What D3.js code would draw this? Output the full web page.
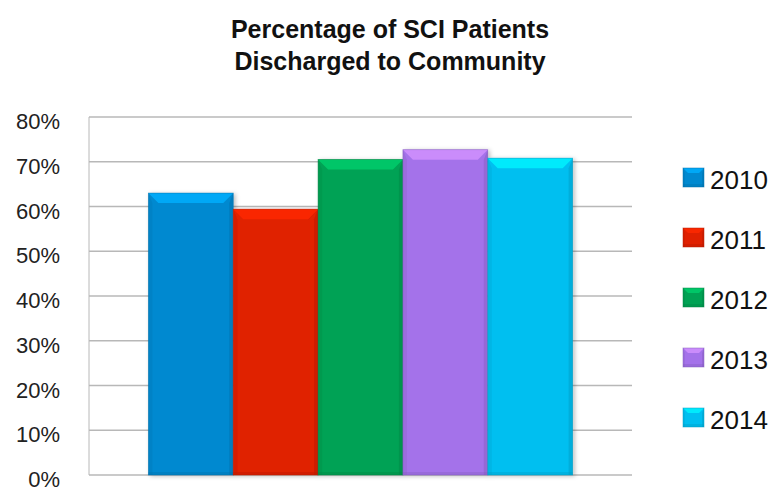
<!DOCTYPE html>
<html>
<head>
<meta charset="utf-8">
<script src="https://cdn.jsdelivr.net/npm/d3@7"></script>
<style>
  body { margin: 0; background: #fff; }
  text { font-family: "Liberation Sans", Arial, sans-serif; }
</style>
</head>
<body>
<div id="container"></div>
<script>

// Data
const years = ["2010", "2011", "2012", "2013", "2014"];
const values = [0.630, 0.594, 0.705, 0.727, 0.708];
const colors = ["#0089d0", "#e02000", "#00a254", "#a472ea", "#00bff0"];
const yTicks = [0, 0.1, 0.2, 0.3, 0.4, 0.5, 0.6, 0.7, 0.8];
const titleLines = ["Percentage of SCI Patients", "Discharged to Community"];

const width = 777;
const height = 488;

const marginTop = 117;
const marginBottom = 13;
const marginLeft = 89;
const plotRight = 632;

const y = d3.scaleLinear()
    .domain([0, 0.8])
    .range([height - marginBottom, marginTop]);

const x = d3.scaleBand()
    .domain(years)
    .range([marginLeft, plotRight])
    .paddingInner(0)
    .paddingOuter(0.7);

const color = d3.scaleOrdinal().domain(years).range(colors);

const svg = d3.create("svg")
    .attr("width", width)
    .attr("height", height);

container.append(svg.node());

const defs = svg.append("defs");

// soft shadow behind the bars
const shadow = defs.append("filter")
    .attr("id", "shadow")
    .attr("x", "-10%").attr("y", "-10%")
    .attr("width", "130%").attr("height", "130%");
shadow.append("feDropShadow")
    .attr("dx", 2).attr("dy", 1)
    .attr("stdDeviation", 2)
    .attr("flood-color", "#000")
    .attr("flood-opacity", 0.25);

// Title
svg.append("g")
  .selectAll("text")
  .data(titleLines)
  .join("text")
    .attr("x", 390)
    .attr("y", (d, i) => 38 + i * 32)
    .attr("text-anchor", "middle")
    .attr("font-size", 25)
    .attr("font-weight", "bold")
    .attr("fill", "#111")
    .text(d => d);

// Gridlines
svg.append("g")
  .selectAll("line")
  .data(yTicks)
  .join("line")
    .attr("x1", marginLeft)
    .attr("x2", plotRight)
    .attr("y1", d => y(d))
    .attr("y2", d => y(d))
    .attr("stroke", "#b8b8b8")
    .attr("stroke-width", 1.5);

// Left axis line
svg.append("line")
    .attr("x1", marginLeft).attr("x2", marginLeft)
    .attr("y1", y(0.8)).attr("y2", y(0))
    .attr("stroke", "#b8b8b8")
    .attr("stroke-width", 1);

// Tick labels
svg.append("g")
  .selectAll("text")
  .data(yTicks)
  .join("text")
    .attr("x", 60)
    .attr("y", d => y(d) + 12)
    .attr("text-anchor", "end")
    .attr("font-size", 22)
    .attr("fill", "#222")
    .text(d => d3.format(".0%")(d));

// Bevelled bar, drawn at a given box
function bevelBar(g, x0, y0, w, h, c, b) {
  const dark = d3.color(c).darker(0.6);
  const light = d3.color(c).brighter(0.7);
  g.append("rect")
      .attr("x", x0).attr("y", y0)
      .attr("width", w).attr("height", h)
      .attr("fill", c);
  // top bevel
  g.append("path")
      .attr("d", `M${x0},${y0}H${x0 + w}L${x0 + w - b},${y0 + b}H${x0 + b}Z`)
      .attr("fill", light)
      .attr("opacity", 0.8);
  // left bevel
  g.append("path")
      .attr("d", `M${x0},${y0}L${x0 + b * 0.4},${y0 + b}V${y0 + h}H${x0}Z`)
      .attr("fill", dark)
      .attr("opacity", 0.25);
  // right bevel
  g.append("path")
      .attr("d", `M${x0 + w},${y0}L${x0 + w - b * 0.4},${y0 + b}V${y0 + h}H${x0 + w}Z`)
      .attr("fill", dark)
      .attr("opacity", 0.45);
  // bottom edge
  g.append("rect")
      .attr("x", x0).attr("y", y0 + h - 3)
      .attr("width", w).attr("height", 3)
      .attr("fill", dark)
      .attr("opacity", 0.35);
  g.append("rect")
      .attr("x", x0).attr("y", y0)
      .attr("width", w).attr("height", h)
      .attr("fill", "none")
      .attr("stroke", dark)
      .attr("stroke-opacity", 0.6)
      .attr("stroke-width", 0.8);
}

// Bars
const bars = svg.append("g").attr("filter", "url(#shadow)");
years.forEach((yr, i) => {
  const g = bars.append("g");
  bevelBar(g, x(yr), y(values[i]), x.bandwidth(), y(0) - y(values[i]), color(yr), 10);
});

// Legend
const legend = svg.append("g");
years.forEach((yr, i) => {
  const ly = 168 + i * 60;
  const g = legend.append("g");
  bevelBar(g, 683, ly, 21, 19, color(yr), 5);
  legend.append("text")
      .attr("x", 710)
      .attr("y", ly + 21)
      .attr("font-size", 26)
      .attr("fill", "#111")
      .text(yr);
});

</script>
</body>
</html>
